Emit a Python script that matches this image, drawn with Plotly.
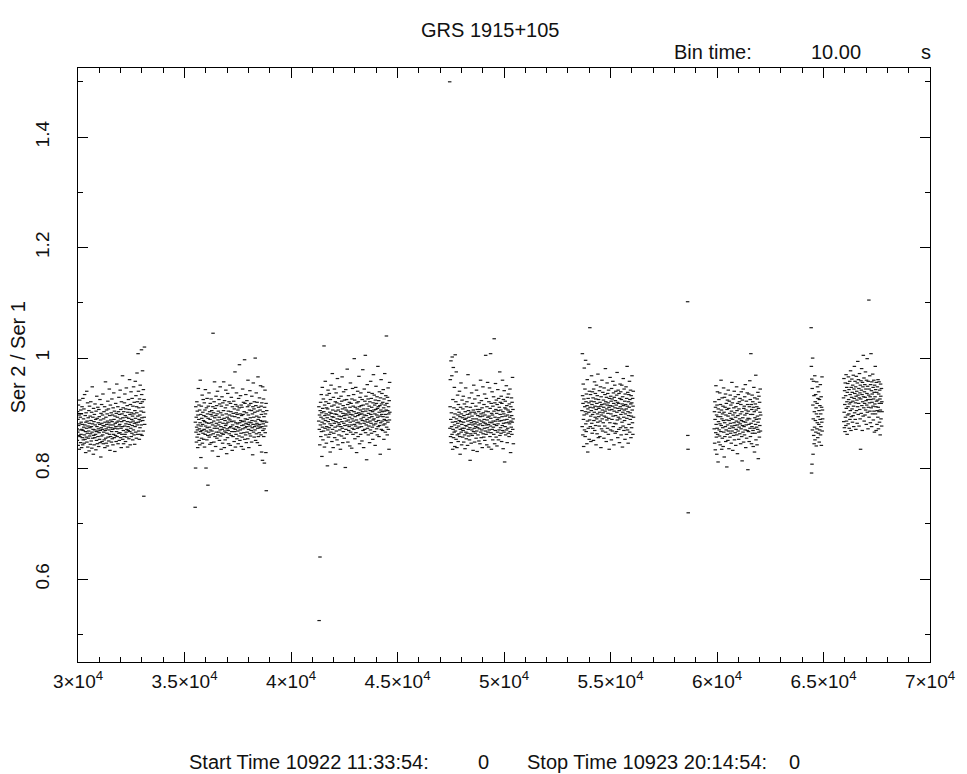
import plotly.graph_objects as go

BIN_TIME = 10  # seconds

# Segment start times (s) and ratio values (Ser2/Ser1 x 1000)
seg_start = [29960, 35500, 41300, 47450, 53660, 58620, 59870, 64420, 65940]

seg1 = [872, 851, 903, 866, 889, 842, 915, 878, 860, 897, 835, 881, 924, 858, 870, 893, 847, 906, 862, 884,
        899, 838, 871, 912, 856, 880, 843, 927, 869, 852, 890, 875, 908, 846, 861, 934, 879, 853, 896, 867,
        829, 884, 901, 857, 873, 940, 848, 886, 864, 919, 839, 877, 892, 855, 868, 905, 832, 882, 913, 859,
        874, 895, 844, 863, 921, 887, 850, 876, 902, 837, 866, 948, 881, 855, 893, 871, 826, 909, 860, 885,
        843, 898, 870, 856, 917, 879, 862, 889, 834, 904, 867, 851, 931, 876, 891, 845, 868, 911, 858, 883,
        872, 840, 907, 865, 894, 853, 880, 925, 847, 869, 888, 821, 900, 874, 859, 916, 882, 849, 871, 897,
        861, 935, 878, 845, 890, 866, 903, 852, 877, 912, 838, 884, 869, 957, 855, 893, 872, 846, 906, 880,
        864, 899, 841, 886, 922, 857, 875, 908, 850, 883, 870, 944, 862, 896, 833, 879, 915, 858, 888, 874,
        901, 848, 867, 926, 885, 854, 897, 871, 843, 910, 879, 862, 937, 889, 856, 904, 873, 831, 895, 882,
        860, 918, 876, 849, 900, 867, 953, 884, 858, 893, 872, 912, 845, 886, 903, 864, 929, 877, 851, 898,
        880, 865, 942, 890, 856, 907, 873, 838, 921, 885, 862, 899, 876, 968, 853, 892, 910, 869, 845, 903,
        887, 858, 919, 877, 935, 862, 896, 849, 908, 881, 866, 946, 893, 871, 857, 914, 885, 839, 902, 876,
        869, 925, 891, 854, 907, 880, 961, 867, 898, 843, 916, 884, 873, 939, 858, 901, 889, 864, 927, 878,
        895, 852, 913, 886, 870, 948, 899, 861, 920, 882, 844, 905, 876, 958, 891, 866, 932, 883, 855, 912,
        901, 973, 879, 921, 862, 895, 1008, 884, 940, 868, 910, 889, 853, 926, 897, 874, 951, 886, 918, 862,
        904, 879, 1015, 934, 892, 860, 921, 977, 887, 911, 868, 943, 902, 750, 925, 893, 1020, 880]

seg2 = [730, 884, 801, 912, 866, 893, 848, 875, 921, 857, 904, 870, 838, 897, 879, 945, 862, 889, 915, 851,
        872, 906, 843, 883, 960, 867, 898, 820, 877, 913, 855, 891, 869, 933, 846, 880, 902, 864, 925, 887,
        853, 896, 871, 919, 839, 885, 906, 862, 943, 877, 894, 801, 868, 910, 883, 852, 927, 874, 899, 860,
        770, 891, 913, 866, 882, 937, 857, 875, 903, 844, 889, 918, 870, 861, 898, 926, 847, 883, 905, 868,
        895, 832, 879, 912, 1045, 863, 901, 886, 848, 921, 873, 957, 892, 858, 909, 877, 840, 896, 931, 866,
        882, 914, 855, 899, 873, 940, 861, 888, 822, 904, 879, 866, 925, 893, 851, 917, 884, 870, 948, 859,
        901, 876, 835, 913, 889, 864, 930, 871, 897, 846, 919, 882, 862, 905, 957, 874, 891, 838, 923, 868,
        887, 852, 910, 878, 942, 865, 899, 881, 827, 915, 872, 893, 856, 936, 884, 869, 904, 845, 890, 921,
        863, 897, 874, 951, 888, 842, 918, 876, 903, 860, 929, 885, 867, 895, 833, 912, 879, 946, 858, 900,
        873, 922, 886, 849, 908, 867, 894, 975, 871, 839, 916, 883, 862, 901, 937, 876, 854, 898, 913, 881,
        868, 906, 845, 892, 927, 874, 859, 910, 988, 883, 851, 899, 870, 932, 887, 864, 915, 840, 896, 878,
        911, 857, 885, 944, 872, 898, 835, 920, 879, 865, 903, 886, 997, 853, 918, 874, 890, 861, 934, 882,
        847, 901, 876, 923, 866, 889, 912, 854, 960, 880, 897, 871, 838, 915, 884, 906, 863, 941, 877, 892,
        859, 918, 883, 869, 905, 848, 931, 887, 874, 899, 825, 912, 880, 955, 866, 893, 908, 857, 921, 876,
        902, 870, 1000, 886, 851, 914, 879, 937, 863, 895, 882, 920, 847, 904, 873, 966, 889, 858, 911, 877,
        893, 865, 928, 880, 842, 906, 874, 950, 887, 861, 913, 898, 830, 919, 876, 885, 815, 948, 869, 903,
        881, 926, 858, 894, 872, 810, 911, 886, 942, 865, 899, 877, 829, 918, 760, 884, 905]

seg3 = [886, 912, 525, 871, 897, 843, 640, 905, 879, 920, 858, 893, 934, 867, 901, 822, 884, 947, 875, 909,
        852, 890, 926, 868, 903, 1022, 881, 839, 915, 896, 873, 958, 887, 861, 921, 899, 846, 910, 876, 933,
        892, 805, 908, 870, 942, 885, 857, 918, 897, 874, 936, 862, 902, 881, 830, 925, 889, 866, 951, 900,
        878, 913, 849, 894, 972, 871, 906, 887, 838, 929, 893, 864, 915, 882, 944, 856, 899, 875, 921, 808,
        904, 885, 937, 868, 898, 919, 852, 890, 963, 877, 911, 843, 906, 883, 927, 861, 895, 880, 948, 870,
        917, 889, 835, 903, 876, 931, 894, 859, 922, 885, 966, 873, 908, 847, 900, 914, 867, 939, 882, 896,
        855, 924, 891, 878, 910, 802, 899, 943, 871, 906, 886, 925, 862, 897, 980, 879, 916, 848, 904, 888,
        932, 869, 901, 876, 920, 893, 841, 911, 884, 955, 866, 898, 918, 879, 905, 837, 926, 890, 873, 945,
        897, 862, 913, 886, 934, 871, 903, 999, 880, 924, 854, 894, 911, 877, 947, 865, 900, 888, 829, 919,
        883, 908, 873, 940, 896, 858, 921, 884, 901, 967, 875, 912, 845, 898, 929, 881, 906, 862, 937, 890,
        914, 876, 899, 850, 925, 887, 903, 979, 869, 915, 893, 838, 908, 882, 944, 897, 871, 922, 886, 1005,
        865, 904, 931, 879, 896, 816, 917, 889, 952, 873, 908, 884, 926, 861, 900, 938, 877, 913, 892, 847,
        921, 886, 905, 870, 958, 898, 882, 927, 864, 911, 894, 936, 875, 903, 853, 919, 888, 970, 879, 906,
        890, 933, 867, 915, 899, 842, 924, 881, 907, 949, 885, 918, 872, 897, 930, 861, 909, 893, 985, 876,
        912, 887, 923, 858, 902, 939, 878, 914, 895, 826, 928, 883, 906, 961, 871, 917, 898, 936, 886, 903,
        869, 920, 894, 943, 879, 910, 853, 926, 889, 904, 972, 881, 915, 866, 898, 932, 887, 906, 1040, 875,
        918, 893, 861, 929, 905, 884, 946, 871, 912, 899, 835, 923, 888, 956, 902]

seg4 = [1500, 873, 912, 961, 858, 889, 995, 847, 901, 876, 968, 862, 1002, 884, 835, 925, 871, 983, 856, 893,
        910, 866, 947, 879, 840, 899, 1006, 868, 885, 921, 853, 975, 890, 874, 838, 907, 861, 933, 882, 897,
        849, 916, 877, 863, 902, 887, 940, 858, 894, 826, 871, 911, 885, 955, 866, 899, 843, 880, 924, 873,
        892, 857, 908, 869, 931, 884, 848, 896, 873, 917, 861, 889, 836, 903, 878, 946, 866, 891, 854, 912,
        877, 921, 864, 898, 842, 886, 970, 871, 905, 859, 893, 880, 928, 852, 899, 874, 815, 911, 887, 863,
        902, 846, 883, 937, 870, 895, 860, 918, 879, 890, 833, 906, 867, 951, 885, 873, 902, 848, 926, 881,
        864, 899, 876, 913, 855, 890, 942, 868, 884, 831, 907, 874, 896, 861, 932, 879, 903, 850, 888, 919,
        872, 907, 845, 894, 881, 960, 866, 899, 856, 923, 886, 870, 910, 838, 895, 878, 948, 863, 901, 884,
        857, 916, 889, 873, 935, 851, 897, 882, 868, 1005, 904, 862, 927, 879, 843, 912, 888, 874, 956, 893,
        866, 903, 880, 839, 921, 895, 870, 946, 884, 858, 909, 877, 1008, 891, 865, 918, 835, 900, 883, 939,
        871, 897, 852, 913, 886, 875, 930, 862, 904, 1035, 880, 845, 919, 893, 869, 954, 886, 907, 857, 924,
        878, 900, 841, 916, 889, 866, 943, 881, 905, 852, 927, 892, 870, 911, 886, 975, 860, 898, 920, 874,
        906, 864, 931, 887, 849, 918, 894, 878, 960, 869, 903, 836, 925, 882, 899, 866, 941, 888, 812, 910,
        876, 922, 895, 861, 908, 883, 950, 870, 914, 889, 847, 929, 897, 873, 906, 864, 935, 884, 902, 858,
        917, 881, 893, 944, 867, 903, 829, 912, 886, 875, 928, 896, 862, 920, 884, 965, 871, 907, 890, 845]

seg5 = [905, 876, 1008, 932, 861, 918, 953, 889, 840, 926, 897, 982, 870, 912, 944, 858, 903, 996, 881, 921,
        867, 935, 899, 845, 914, 961, 886, 830, 908, 927, 873, 989, 902, 919, 853, 940, 888, 1055, 911, 876,
        934, 895, 849, 922, 905, 968, 882, 916, 864, 939, 898, 873, 928, 910, 851, 944, 887, 921, 902, 957,
        869, 913, 893, 936, 878, 926, 843, 907, 951, 890, 918, 863, 932, 899, 884, 971, 912, 856, 925, 894,
        909, 877, 941, 902, 858, 920, 886, 948, 913, 838, 930, 897, 872, 916, 960, 890, 906, 868, 938, 901,
        883, 924, 911, 855, 946, 895, 917, 877, 934, 904, 981, 866, 921, 893, 849, 929, 908, 888, 955, 915,
        873, 936, 900, 919, 862, 942, 891, 911, 835, 927, 906, 883, 965, 914, 870, 931, 899, 922, 852, 945,
        907, 889, 926, 868, 913, 958, 895, 876, 937, 918, 843, 904, 929, 882, 951, 910, 864, 923, 896, 940,
        881, 915, 867, 933, 902, 974, 888, 920, 856, 909, 942, 893, 918, 871, 936, 905, 847, 927, 890, 953,
        912, 874, 939, 898, 861, 925, 908, 951, 884, 917, 839, 930, 902, 877, 963, 914, 893, 869, 944, 906,
        887, 922, 853, 935, 899, 916, 874, 948, 908, 862, 927, 891, 985, 913, 870, 938, 903, 846, 921, 896,
        934, 880, 911, 958, 866, 925, 901, 889, 942, 917, 856, 932, 895, 874, 919, 968, 906, 883, 927, 862,
        913, 940, 893]

seg_iso = [1102, 860, 835, 720]

seg6 = [872, 903, 846, 921, 889, 834, 911, 865, 950, 880, 857, 897, 826, 915, 873, 939, 862, 894, 812, 908,
        885, 848, 925, 870, 902, 859, 937, 881, 843, 916, 894, 867, 960, 878, 906, 835, 890, 928, 855, 899,
        874, 913, 840, 887, 946, 866, 902, 821, 929, 883, 858, 911, 876, 935, 849, 897, 870, 918, 888, 803,
        907, 862, 924, 879, 851, 895, 942, 868, 909, 836, 887, 922, 873, 900, 857, 933, 882, 864, 915, 891,
        846, 904, 877, 956, 868, 919, 889, 833, 897, 874, 926, 860, 910, 883, 940, 852, 901, 878, 865, 930,
        893, 842, 912, 871, 886, 948, 861, 905, 879, 827, 918, 896, 868, 934, 884, 853, 908, 875, 921, 890,
        863, 927, 881, 899, 845, 916, 872, 939, 887, 858, 903, 814, 924, 878, 892, 866, 944, 885, 848, 909,
        876, 913, 861, 930, 897, 870, 952, 884, 838, 906, 879, 922, 855, 900, 888, 937, 869, 916, 798, 891,
        904, 867, 935, 880, 849, 912, 890, 959, 873, 925, 858, 898, 1008, 882, 916, 845, 907, 876, 933, 864,
        898, 921, 869, 840, 911, 886, 947, 873, 903, 830, 928, 892, 864, 917, 880, 969, 852, 906, 889, 875,
        912, 843, 926, 895, 871, 938, 884, 818, 909, 866, 931, 890, 857, 920, 878, 902, 944, 868, 897]

seg7 = [1055, 985, 792, 962, 808, 945, 870, 1000, 915, 826, 890, 958, 860, 932, 845, 903, 875, 968, 852, 921,
        887, 934, 866, 910, 841, 899, 957, 872, 918, 883, 948, 856, 927, 894, 864, 939, 880, 905, 848, 925,
        870, 914, 889, 952, 861, 899, 876, 930, 842, 911, 884, 966, 868, 906, 890]

seg8 = [928, 885, 963, 902, 874, 941, 916, 867, 955, 893, 932, 878, 970, 909, 886, 947, 921, 862, 938, 897,
        954, 912, 881, 966, 925, 899, 943, 873, 917, 958, 889, 934, 905, 977, 920, 869, 947, 894, 929, 962,
        908, 938, 884, 951, 922, 896, 969, 913, 876, 944, 927, 985, 901, 936, 958, 889, 919, 948, 871, 931,
        967, 905, 940, 924, 882, 955, 912, 994, 933, 898, 961, 918, 945, 877, 928, 972, 907, 937, 890, 951,
        835, 926, 959, 900, 942, 981, 914, 934, 869, 956, 921, 948, 895, 1005, 930, 910, 964, 886, 939, 918,
        952, 897, 929, 975, 906, 944, 923, 880, 960, 915, 936, 999, 902, 949, 925, 872, 958, 911, 933, 1105,
        893, 944, 919, 968, 904, 930, 883, 952, 925, 1008, 910, 941, 876, 957, 920, 935, 899, 971, 913, 947,
        888, 926, 960, 904, 938, 866, 951, 917, 930, 985, 899, 943, 912, 869, 956, 922, 938, 880, 905, 948,
        924, 893, 961, 911, 872, 935, 903, 957, 918, 884, 942, 926, 861, 906, 953, 931, 890, 918, 945, 877,
        921, 903]

segments = [seg1, seg2, seg3, seg4, seg5, seg_iso, seg6, seg7, seg8]

x_tick_vals = [30000, 35000, 40000, 45000, 50000, 55000, 60000, 65000, 70000]
x_tick_text = ["3×10<sup>4</sup>", "3.5×10<sup>4</sup>", "4×10<sup>4</sup>", "4.5×10<sup>4</sup>",
               "5×10<sup>4</sup>", "5.5×10<sup>4</sup>", "6×10<sup>4</sup>", "6.5×10<sup>4</sup>",
               "7×10<sup>4</sup>"]
y_tick_vals = [0.6, 0.8, 1.0, 1.2, 1.4]
y_tick_text = ["0.6", "0.8", "1", "1.2", "1.4"]

xs, ys = [], []
for start, vals in zip(seg_start, segments):
    for i, v in enumerate(vals):
        xs.append(start + BIN_TIME * i)
        ys.append(v / 1000.0)

FONT = "Liberation Sans, Arial, sans-serif"
FS_TICK = 19
FS_TXT = 20
TXT_COLOR = "#111111"

fig = go.Figure()
fig.add_trace(go.Scatter(
    x=xs, y=ys, mode="markers",
    marker=dict(symbol="line-ew", size=2.5, color="#000000", line=dict(width=1.2, color="#1a1a1a")),
    hoverinfo="x+y", showlegend=False,
))

axis_common = dict(
    showgrid=False, zeroline=False, showline=True, linecolor="black", linewidth=1,
    mirror="ticks", ticks="inside", ticklen=10, tickwidth=1, tickcolor="black",
    tickfont=dict(family=FONT, size=FS_TICK, color=TXT_COLOR),
)

fig.update_xaxes(
    range=[30000, 70000], tickmode="array", tickvals=x_tick_vals, ticktext=x_tick_text,
    minor=dict(dtick=1000, ticklen=5, ticks="inside", tickcolor="black", tickwidth=1, showgrid=False),
    ticklabelstandoff=2,
    **axis_common,
)
fig.update_yaxes(
    range=[0.45, 1.525], tickmode="array", tickvals=y_tick_vals, ticktext=y_tick_text,
    tickangle=-90,
    minor=dict(dtick=0.1, tick0=0.5, ticklen=5, ticks="inside", tickcolor="black", tickwidth=1, showgrid=False),
    ticklabelstandoff=20,
    **axis_common,
)

L, R, T, B = 78, 32, 68, 112
W, H = 967, 774
pw, ph = W - L - R, H - T - B

def px(xp):
    return (xp - L) / pw

def py(yp):
    return (T + ph - yp) / ph

ann_font = dict(family=FONT, size=FS_TXT, color=TXT_COLOR)
annotations = [
    dict(text="GRS 1915+105", x=px(492), y=py(30), xanchor="center", yanchor="middle"),
    dict(text="Bin time:", x=px(675), y=py(52), xanchor="left", yanchor="middle"),
    dict(text="10.00", x=px(813), y=py(52), xanchor="left", yanchor="middle"),
    dict(text="s", x=px(924), y=py(52), xanchor="left", yanchor="middle"),
    dict(text="Start Time 10922 11:33:54:", x=px(188), y=py(762), xanchor="left", yanchor="middle"),
    dict(text="0", x=px(478), y=py(762), xanchor="left", yanchor="middle"),
    dict(text="Stop Time 10923 20:14:54:", x=px(528), y=py(762), xanchor="left", yanchor="middle"),
    dict(text="0", x=px(791), y=py(762), xanchor="left", yanchor="middle"),
    dict(text="Ser 2 / Ser 1", x=px(18), y=py(357), xanchor="center", yanchor="middle", textangle=-90),
]
for a in annotations:
    a.update(xref="paper", yref="paper", showarrow=False, font=ann_font)

fig.update_layout(
    width=W, height=H, autosize=False,
    margin=dict(l=L, r=R, t=T, b=B, pad=0),
    paper_bgcolor="white", plot_bgcolor="white",
    annotations=annotations,
    font=dict(family=FONT, size=FS_TXT, color=TXT_COLOR),
)

fig.write_html("out.html")
